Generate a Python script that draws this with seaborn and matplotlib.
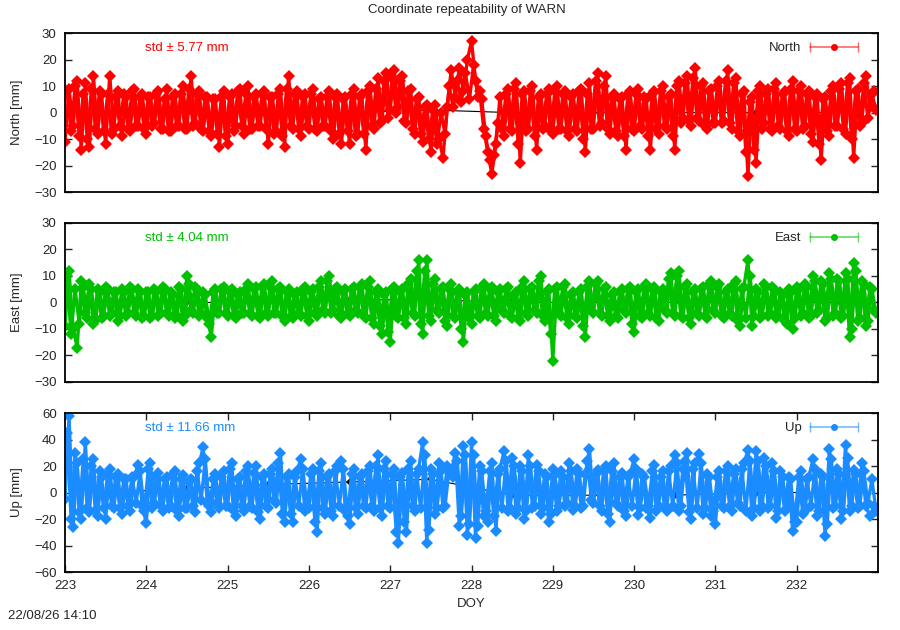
import numpy as np
import matplotlib
matplotlib.use("Agg")
import matplotlib.pyplot as plt
import seaborn as sns

# residuals, epochs every 0.05 day from DOY 223.000
north = [-11, 9, -5, 12, -14, 11, -13, 14, -8, 7,
         -12, 14, -6, 8, -9, 6, -7, 9, -5, 7,
         -8, 6, -4, 8, -6, 9, -7, 7, -5, 10,
         -6, 14, -4, 8, -7, 6, -9, 5, -13, 8,
         -12, 7, -5, 9, -8, 10, -6, 7, -5, 8,
         -12, 6, -7, 9, -13, 14, -6, 8, -9, 7,
         -6, 9, -7, 6, -5, 8, -10, 7, -12, 6,
         -12, 9, -8, 7, -14, 10, -6, 13, -3, 15,
         1, 16, 2, 14, -4, 9, -8, 6, -11, 3,
         -15, 3, -10, -17, 2, 16, 6, 17, 8, 20,
         27, 12, 8, -6, -15, -23, -12, 6, -9, 9,
         -7, 11, -19, 8, -6, 10, -14, 7, -5, 9,
         -8, 10, -6, 8, -9, 7, -7, 9, -15, 11,
         -6, 15, -4, 14, -8, 7, -9, 6, -14, 8,
         -7, 9, -6, 5, -14, 8, -8, 10, -6, 7,
         -14, 12, -2, 14, -5, 17, -3, 11, -6, 9,
         -4, 12, -3, 16, -6, 13, -9, 8, -24, 6,
         -19, 10, -4, 9, -7, 11, -6, 8, -9, 12,
         -7, 10, -5, 8, -11, 7, -18, 6, -9, 10,
         -5, 11, -8, 13, -17, 9, -4, 14, 2, 8]

# the epochs in between (DOY 223.025 + 0.05 k)
north_mid = [8, -7, 10, -9, 7, -10, 9, -6, 8, -7,
             7, -8, 6, -5, 7, -6, 8, -5, 6, -6,
             6, -5, 7, -6, 5, -7, 6, -5, 7, -6,
             9, -5, 7, -6, 6, -7, 5, -8, 6, -9,
             6, -7, 8, -5, 7, -6, 6, -5, 7, -6,
             6, -8, 7, -9, 9, -5, 7, -6, 6, -5,
             7, -6, 5, -5, 6, -7, 6, -8, 5, -7,
             7, -9, 6, -8, 8, -5, 9, -4, 12, -2,
             13, 0, 12, -3, 8, -6, 5, -8, 2, -10,
             1, -12, 0, -8, 10, 2, 12, 4, 15, 5,
             18, 6, 5, -9, -18, -16, -4, -6, 7, -6,
             9, -12, 7, -7, 8, -9, 6, -6, 7, -7,
             8, -6, 7, -7, 6, -6, 8, -10, 7, -6,
             12, -5, 10, -6, 6, -7, 5, -9, 7, -6,
             7, -5, 6, -9, 7, -6, 8, -5, 6, -9,
             10, -4, 11, -3, 13, -2, 10, -5, 8, -4,
             10, -4, 12, -4, 11, -7, 7, -15, 4, -14,
             8, -6, 7, -6, 9, -5, 7, -7, 9, -6,
             8, -6, 7, -8, 6, -12, 5, -7, 8, -5,
             9, -6, 11, -10, 8, -5, 11, -2, 7, 1]

east = [-9, 12, -10, -17, 8, -4, 7, -8, 5, -6,
        6, -5, 4, -7, 5, -5, 6, -4, 5, -6,
        4, -6, 5, -5, 6, -4, 4, -6, 6, -7,
        10, -3, 6, -5, 4, -6, -13, 5, -4, 6,
        -5, 5, -6, 4, -4, 7, -5, 6, -6, 7,
        -5, 8, -4, 6, -7, 5, -6, 4, -5, 6,
        -7, 5, -5, 8, -4, 10, -3, 6, -6, 5,
        -5, 6, -4, 7, -6, 8, -8, 5, -12, 4,
        -15, 6, -6, 5, -8, 9, -5, 16, -12, 16,
        -7, 9, -4, 6, -9, 7, -6, 5, -15, 4,
        -8, 5, -6, 7, -5, 6, -7, 5, -4, 6,
        -6, 4, -7, 8, -5, 6, -4, 10, -7, 5,
        -22, 6, -5, 7, -8, 4, -6, 5, -13, 8,
        -4, 8, -5, 6, -7, 4, -6, 5, -4, 6,
        -11, 5, -6, 7, -5, 6, -7, 5, -4, 11,
        -5, 12, -6, 7, -8, 5, -5, 6, -6, 8,
        -4, 7, -6, 5, -5, 8, -9, 6, 16, -9,
        5, -6, 7, -5, 6, -6, 4, -7, 5, -10,
        6, -5, 7, -6, 10, -4, 8, -7, 11, -5,
        9, -6, 11, -13, 15, -7, 8, -9, 6, -3]

east_mid = [10, -12, 5, -8, 6, -6, 5, -7, 4, -5,
            5, -4, 4, -5, 4, -4, 5, -5, 4, -5,
            4, -5, 4, -4, 5, -5, 3, -5, 5, -5,
            7, -4, 5, -4, 3, -8, 4, -4, 5, -4,
            4, -5, 3, -4, 5, -4, 5, -5, 6, -4,
            6, -4, 5, -5, 4, -5, 3, -4, 5, -5,
            4, -4, 6, -3, 8, -4, 5, -5, 4, -4,
            5, -3, 6, -5, 6, -6, 4, -9, 3, -11,
            5, -5, 4, -6, 7, -4, 12, -8, 12, -5,
            7, -3, 5, -7, 5, -5, 4, -10, 3, -6,
            4, -5, 6, -4, 5, -5, 4, -3, 5, -5,
            3, -6, 6, -4, 5, -3, 8, -5, 4, -12,
            5, -4, 6, -6, 3, -5, 4, -9, 6, -3,
            7, -4, 5, -5, 3, -5, 4, -3, 5, -8,
            4, -5, 6, -4, 5, -6, 4, -3, 9, -4,
            10, -5, 6, -6, 4, -4, 5, -5, 7, -3,
            6, -5, 4, -4, 7, -7, 5, -6, 10, -5,
            4, -5, 6, -4, 5, -5, 3, -8, 4, -6,
            5, -4, 6, -5, 8, -3, 7, -6, 9, -4,
            8, -5, 9, -10, 12, -6, 7, -7, 5, -4]

up = [-5, 58, -26, 22, -20, 38, -15, 25, -18, 12,
      -20, 18, -12, 14, -16, 10, -14, 12, 21, -10,
      -23, 22, -8, 15, -14, 12, -10, 16, -18, 13,
      -12, 10, -15, 22, 34, -8, -15, 14, -12, 16,
      -10, 22, -18, 12, -14, 20, -12, 20, -20, 14,
      -12, 18, -8, 30, -22, 14, -22, 16, 25, -14,
      -12, 18, -30, 22, -16, 14, -18, 20, 24, -14,
      -24, 18, -16, 14, -12, 20, -14, 28, -18, 24,
      -12, 18, -38, 15, -30, 24, -14, 18, 38, -38,
      18, -16, 22, -12, 20, 15, 30, -25, 35, -32,
      38, -34, 20, -18, -22, 22, -29, 18, 31, -14,
      26, -16, 20, -20, 28, -12, 21, -16, 14, -22,
      18, -14, 16, -10, 22, -13, 18, -12, 14, 33,
      -8, 17, -14, 20, -22, 22, -10, 15, -18, 14,
      25, -17, 14, -12, -19, 21, -10, 16, -14, 20,
      28, -14, 18, 30, -20, 22, 29, -16, 14, -18,
      -24, 16, -12, 20, -14, 18, -10, 22, 32, -18,
      31, -14, 26, -12, 22, -19, 16, -14, 12, -29,
      -22, 16, -14, 12, 25, -18, 14, -33, 33, -12,
      18, -20, 36, -14, 17, -12, 22, -10, -18, -10]

up_mid = [45, -20, 30, -15, 25, -12, 20, -14, 16, -12,
          14, -10, 12, -12, 10, -10, 12, -8, 16, -14,
          18, -12, 12, -10, 10, -12, 14, -14, 10, -12,
          8, -10, 16, -6, 25, -10, 10, -8, 12, -10,
          18, -14, 10, -10, 16, -10, 15, -15, 12, -10,
          14, -6, 22, -16, 12, -16, 12, -10, 18, -10,
          14, -22, 16, -12, 12, -14, 16, -10, 18, -18,
          14, -12, 12, -10, 16, -10, 20, -12, 18, -10,
          14, -30, 12, -22, 18, -10, 14, -12, 28, -28,
          14, -12, 16, -10, 18, 12, 24, -18, 28, -24,
          28, -25, 16, -14, 16, -18, 14, -12, 24, -12,
          20, -12, 16, -14, 20, -10, 16, -12, 12, -16,
          14, -10, 12, -8, 16, -10, 14, -10, 24, -6,
          14, -10, 16, -16, 16, -8, 12, -14, 12, -10,
          18, -12, 12, -10, 16, -14, 12, -12, 16, -10,
          22, -10, 24, -15, 18, -12, 22, -12, 12, -14,
          12, -10, 16, -10, 14, -8, 18, -14, 24, -12,
          24, -10, 20, -10, 16, -14, 12, -12, 10, -22,
          12, -16, 10, -10, 18, -14, 12, -24, 25, -10,
          14, -14, 26, -10, 14, -10, 16, -8, 10, -14]

# daily reference solutions (drawn in black underneath)
daily_doy = [223.5, 224.5, 225.5, 226.5, 227.5, 228.5, 229.5, 230.5, 231.5, 232.5]
north_daily = [0, 0, 0, 0, 1, 0, 0, 0, 0, 0]
east_daily = [0, 0, 0, 1, 1, 0, 0, 0, 0, 0]
up_daily = [0, 3, 6, 8, 10, -2, -2, -2, 0, 0]

components = ["North", "East", "Up"]
stds = ["5.77", "4.04", "11.66"]
colors = ["#ff0000", "#00c000", "#1a8cff"]
ylims = [(-30, 30), (-30, 30), (-60, 60)]
ysteps = [10, 10, 20]
day_ticks = list(range(223, 233))

doy = 223 + np.arange(len(north)) / 20
doy_mid = doy + 0.025

sns.set_style("white")
plt.rcParams["font.family"] = ["Liberation Sans", "DejaVu Sans"]
plt.rcParams["font.size"] = 9.5

fig = plt.figure(figsize=(9, 6.3), dpi=100)
panels = [(0.0722, 0.695, 0.9034, 0.2524),
          (0.0722, 0.3937, 0.9034, 0.2524),
          (0.0722, 0.092, 0.9034, 0.2524)]

series = [(north, north_mid), (east, east_mid), (up, up_mid)]
dailies = [north_daily, east_daily, up_daily]

for i, name in enumerate(components):
    ax = fig.add_axes(panels[i])
    col = colors[i]
    sns.lineplot(x=daily_doy, y=dailies[i], ax=ax, color="black", marker="D",
                 markersize=4, linewidth=0.8, markeredgewidth=0, zorder=1)
    main, mid = series[i]
    for xs, ys in [(doy_mid, mid), (doy, main)]:
        sns.lineplot(x=xs, y=ys, ax=ax, color=col, marker="D", markersize=6,
                     linewidth=2.4, markeredgewidth=0, estimator=None, sort=False,
                     zorder=2)
    lo, hi = ylims[i]
    ax.set_xlim(223, 233)
    ax.set_ylim(lo, hi)
    ax.set_yticks(np.arange(lo, hi + 1, ysteps[i]))
    ax.set_ylabel(f"{name} [mm]", labelpad=8)
    ax.set_xlabel("")
    for sp in ax.spines.values():
        sp.set_linewidth(1.3)
        sp.set_color("black")
    ax.tick_params(axis="y", direction="in", length=5, left=True, right=True,
                   width=1, labelsize=9.5, pad=6)
    if i < 2:
        ax.tick_params(axis="x", bottom=False, labelbottom=False)
    else:
        ax.set_xticks(day_ticks)
        ax.tick_params(axis="x", direction="in", length=5, bottom=True, top=True,
                       width=1, labelsize=9.5, pad=6)
        ax.set_xlabel("DOY", labelpad=4)

    ax.text(0.098, 0.906, f"std \u00b1 {stds[i]} mm", transform=ax.transAxes,
            color=col, fontsize=9.5, va="center", ha="left")
    # legend sample in gnuplot style
    ax.text(0.906, 0.906, name, transform=ax.transAxes, fontsize=9.5,
            va="center", ha="right")
    ax.plot([0.916, 0.975], [0.912, 0.912], transform=ax.transAxes, color=col,
            alpha=0.6, linewidth=1.2, clip_on=False)
    ax.plot([0.916, 0.975], [0.912, 0.912], transform=ax.transAxes, color=col,
            alpha=0.6, linestyle="none", marker="|", markersize=7, clip_on=False)
    ax.plot([0.9455], [0.912], transform=ax.transAxes, color=col, marker="o",
            markersize=4, clip_on=False)

fig.text(0.519, 0.984, "Coordinate repeatability of WARN", ha="center", va="center",
         fontsize=9.5)
fig.text(0.009, 0.012, "22/08/26 14:10", ha="left", va="bottom", fontsize=9.5)

fig.savefig("out.png", dpi=100)
